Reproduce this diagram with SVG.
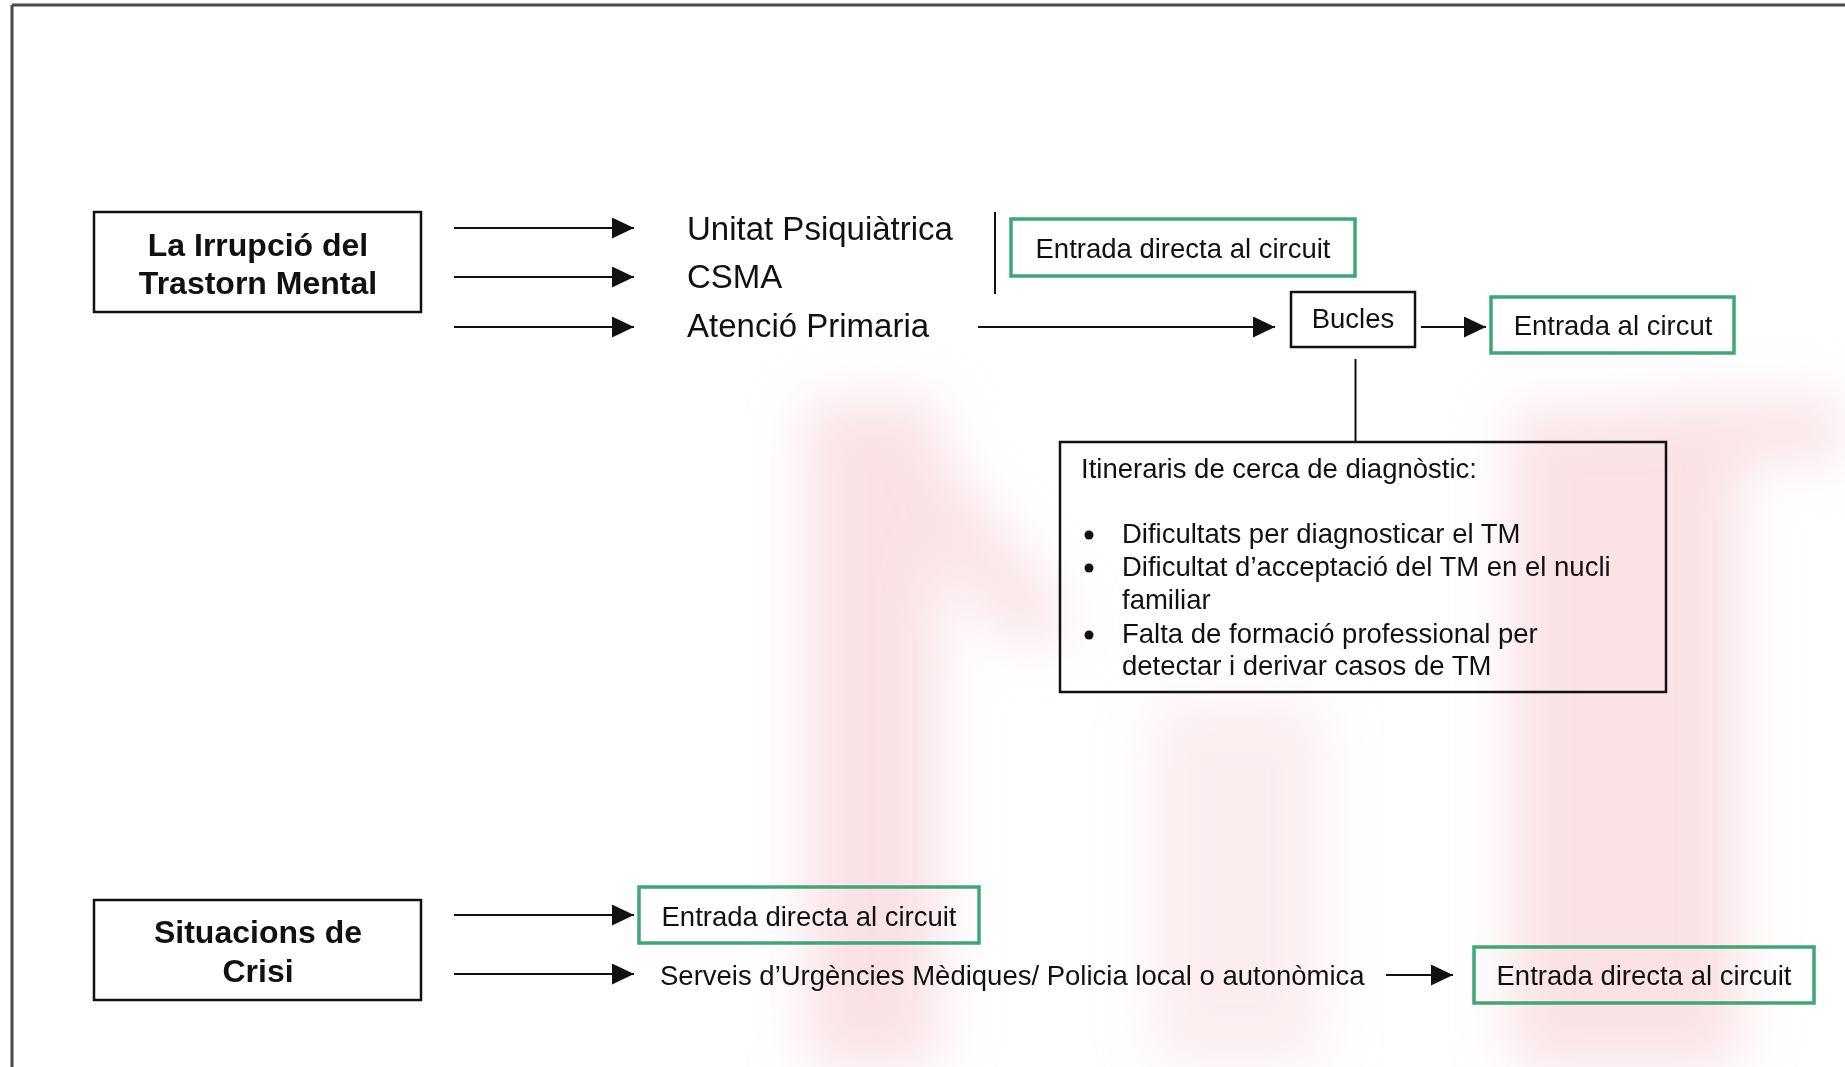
<svg xmlns="http://www.w3.org/2000/svg" width="1845" height="1067" viewBox="0 0 1845 1067">
<defs>
  <style>
    .t { font-family: "Liberation Sans", Arial, Helvetica, sans-serif; font-size: 27.5px; fill: #111; }
    .big { font-family: "Liberation Sans", Arial, Helvetica, sans-serif; font-size: 33px; fill: #111; }
    .bold { font-family: "Liberation Sans", Arial, Helvetica, sans-serif; font-size: 32px; font-weight: bold; fill: #111; text-anchor: middle; }
    .box { fill: none; stroke: #111; stroke-width: 2.5; }
    .gbox { fill: none; stroke: #3fa675; stroke-width: 3.5; }
    .conn { stroke: #111; stroke-width: 2; fill: none; }
    .arr { marker-end: url(#ah); }
  </style>
  <marker id="ah" markerUnits="userSpaceOnUse" markerWidth="22" markerHeight="21" refX="22" refY="10.5" orient="auto">
    <path d="M0,0 L22,10.5 L0,21 z" fill="#111"/>
  </marker>
  <filter id="blur" x="-30%" y="-30%" width="160%" height="160%">
    <feGaussianBlur stdDeviation="28"/>
  </filter>
</defs>

<rect x="0" y="0" width="1845" height="1067" fill="#ffffff"/>

<!-- faint background watermark -->
<g id="watermark" filter="url(#blur)" fill="#f4c4ca" opacity="0.5">
  <rect x="805" y="400" width="135" height="667"/>
  <polygon points="830,400 900,400 1080,630 1010,645"/>
  <rect x="1150" y="700" width="175" height="367" opacity="0.6"/>
  <rect x="1510" y="410" width="230" height="657"/>
  <rect x="1650" y="400" width="195" height="60"/>
</g>

<!-- page frame -->
<g id="frame" stroke="#4a4a4a" stroke-width="3" fill="none">
  <line x1="12" y1="5" x2="1845" y2="5"/>
  <line x1="12" y1="5" x2="12" y2="1067"/>
</g>

<g id="connectors">
  <line class="conn arr" x1="454" y1="228" x2="634" y2="228"/>
  <line class="conn arr" x1="454" y1="277" x2="634" y2="277"/>
  <line class="conn arr" x1="454" y1="327" x2="634" y2="327"/>
  <line class="conn" x1="995" y1="212" x2="995" y2="294"/>
  <line class="conn arr" x1="978" y1="327" x2="1275" y2="327"/>
  <line class="conn arr" x1="1421" y1="327" x2="1486" y2="327"/>
  <line class="conn" x1="1355.5" y1="359" x2="1355.5" y2="442"/>
  <line class="conn arr" x1="454" y1="915" x2="634" y2="915"/>
  <line class="conn arr" x1="454" y1="974" x2="634" y2="974"/>
  <line class="conn arr" x1="1386" y1="975" x2="1453" y2="975"/>
</g>

<g id="irrupcio">
  <rect class="box" x="94" y="212" width="327" height="100"/>
  <text class="bold" x="258" y="256">La Irrupció del</text>
  <text class="bold" x="258" y="294">Trastorn Mental</text>
</g>

<g id="unitat"><text class="big" x="687" y="240">Unitat Psiquiàtrica</text></g>
<g id="csma"><text class="big" x="687" y="288">CSMA</text></g>
<g id="atencio"><text class="big" x="687" y="337">Atenció Primaria</text></g>

<g id="entrada-directa-1">
  <rect class="gbox" x="1011" y="219" width="344" height="57"/>
  <text class="t" x="1183" y="258" text-anchor="middle">Entrada directa al circuit</text>
</g>

<g id="bucles">
  <rect class="box" x="1291" y="292" width="124" height="55"/>
  <text class="t" x="1353" y="328" text-anchor="middle">Bucles</text>
</g>

<g id="entrada-circut">
  <rect class="gbox" x="1491" y="297" width="243" height="56"/>
  <text class="t" x="1613" y="335" text-anchor="middle">Entrada al circut</text>
</g>

<g id="itineraris">
  <rect class="box" x="1060" y="442" width="606" height="250"/>
  <text class="t" x="1081" y="478">Itineraris de cerca de diagnòstic:</text>
  <circle cx="1089" cy="535" r="4.5" fill="#111"/>
  <text class="t" x="1122" y="543">Dificultats per diagnosticar el TM</text>
  <circle cx="1089" cy="568" r="4.5" fill="#111"/>
  <text class="t" x="1122" y="576">Dificultat d’acceptació del TM en el nucli</text>
  <text class="t" x="1122" y="609">familiar</text>
  <circle cx="1089" cy="635" r="4.5" fill="#111"/>
  <text class="t" x="1122" y="643">Falta de formació professional per</text>
  <text class="t" x="1122" y="675">detectar i derivar casos de TM</text>
</g>

<g id="situacions">
  <rect class="box" x="94" y="900" width="327" height="100"/>
  <text class="bold" x="258" y="943">Situacions de</text>
  <text class="bold" x="258" y="982">Crisi</text>
</g>

<g id="entrada-directa-2">
  <rect class="gbox" x="639" y="887" width="340" height="56"/>
  <text class="t" x="809" y="926" text-anchor="middle">Entrada directa al circuit</text>
</g>

<g id="serveis">
  <text class="t" x="660" y="985">Serveis d’Urgències Mèdiques/ Policia local o autonòmica</text>
</g>

<g id="entrada-directa-3">
  <rect class="gbox" x="1474" y="947" width="340" height="56"/>
  <text class="t" x="1644" y="985" text-anchor="middle">Entrada directa al circuit</text>
</g>
</svg>
